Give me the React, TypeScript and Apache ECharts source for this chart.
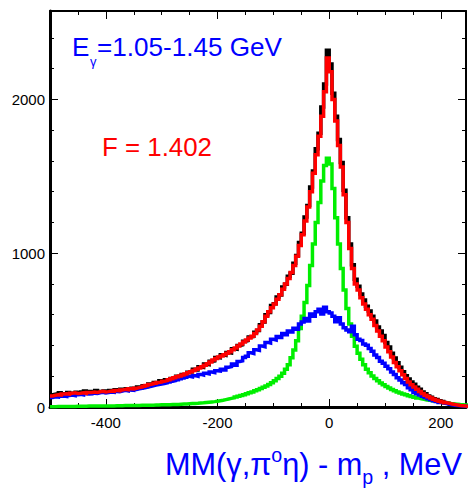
import React, { useEffect, useRef } from "react";
import * as echarts from "echarts";

// Histogram binning (MeV)
const BIN_START = -500;
const BIN_WIDTH = 5;
const X_MIN = -500;
const X_MAX = 245;
const Y_MIN = 0;
const Y_MAX = 2575;

// Tick values
const xMajorTicks = [-400, -200, 0, 200];
const yMajorTicks = [0, 1000, 2000];

// Data (black), 150 bins of 5 MeV from -500
const dataCounts = [
  80, 84, 78, 92, 86, 88, 95, 85, 90, 96,
  92, 98, 104, 94, 100, 96, 108, 100, 97, 104,
  102, 108, 100, 112, 104, 116, 110, 118, 114, 122,
  120, 130, 126, 138, 134, 150, 145, 160, 156, 170,
  165, 178, 172, 186, 184, 200, 194, 212, 206, 226,
  228, 246, 240, 262, 258, 280, 276, 298, 300, 322,
  320, 340, 336, 355, 352, 378, 376, 400, 404, 428,
  432, 455, 458, 486, 498, 535, 552, 600, 615, 660,
  672, 715, 728, 780, 798, 850, 870, 935, 985, 1070,
  1130, 1235, 1310, 1430, 1535, 1680, 1780, 1950, 2100, 2320,
  2230, 2040, 1890, 1740, 1590, 1410, 1230, 1060, 925, 830,
  785, 735, 695, 655, 625, 590, 560, 520, 495, 465,
  420, 390, 350, 318, 288, 258, 230, 204, 182, 162,
  148, 128, 116, 98, 86, 72, 64, 54, 48, 40,
  35, 29, 25, 20, 17, 13, 11, 8, 6, 5,
];

// Fit sum (red)
const fitCounts = [
  72, 76, 80, 78, 84, 86, 83, 90, 92, 88,
  90, 93, 89, 95, 94, 97, 95, 99, 102, 98,
  100, 104, 102, 108, 106, 111, 115, 112, 118, 117,
  122, 126, 130, 135, 140, 146, 150, 155, 160, 163,
  168, 172, 178, 184, 190, 196, 202, 208, 214, 222,
  230, 238, 246, 254, 262, 272, 282, 292, 305, 315,
  325, 332, 340, 350, 360, 372, 384, 396, 410, 422,
  435, 448, 460, 478, 500, 525, 555, 590, 620, 645,
  670, 700, 730, 765, 800, 835, 875, 920, 980, 1050,
  1120, 1210, 1300, 1400, 1520, 1640, 1760, 1890, 2050, 2270,
  2180, 2000, 1860, 1700, 1560, 1380, 1200, 1030, 900, 800,
  760, 710, 670, 635, 600, 570, 530, 495, 460, 430,
  390, 360, 325, 290, 262, 235, 210, 185, 162, 145,
  130, 115, 100, 88, 76, 66, 58, 50, 44, 38,
  33, 28, 24, 20, 16, 13, 10, 8, 6, 5,
];

// Background component (blue)
const backgroundCounts = [
  62, 66, 64, 70, 72, 69, 75, 78, 74, 80,
  82, 79, 86, 84, 85, 90, 88, 92, 95, 91,
  94, 98, 96, 101, 100, 104, 108, 105, 111, 109,
  114, 118, 122, 125, 129, 134, 138, 142, 146, 150,
  153, 157, 163, 168, 172, 178, 183, 188, 193, 200,
  196, 204, 200, 212, 208, 220, 216, 228, 224, 236,
  234, 246, 240, 258, 262, 280, 272, 296, 300, 322,
  330, 352, 348, 372, 368, 396, 392, 420, 416, 440,
  436, 458, 452, 478, 470, 495, 488, 512, 505, 540,
  553, 575, 560, 605, 590, 620, 635, 605, 648, 620,
  612, 590, 555, 580, 540, 515, 500, 490, 525, 470,
  440, 432, 410, 402, 380, 362, 338, 322, 298, 284,
  265, 248, 228, 212, 190, 175, 158, 146, 125, 112,
  95, 86, 78, 70, 62, 54, 47, 40, 35, 30,
  26, 22, 18, 15, 12, 10, 8, 6, 5, 4,
];

// Signal component (green)
const signalCounts = [
  2, 2, 3, 3, 3, 3, 4, 4, 4, 5,
  5, 5, 5, 6, 6, 6, 6, 7, 7, 7,
  7, 7, 7, 8, 8, 8, 9, 9, 9, 10,
  10, 10, 11, 11, 11, 12, 12, 13, 13, 14,
  14, 15, 15, 16, 17, 17, 18, 19, 20, 21,
  22, 23, 24, 26, 27, 29, 31, 33, 35, 38,
  41, 44, 48, 52, 56, 60, 65, 70, 75, 80,
  86, 92, 98, 105, 112, 120, 128, 137, 147, 158,
  170, 185, 200, 220, 245, 275, 320, 370, 430, 510,
  590, 680, 790, 920, 1060, 1200, 1330, 1470, 1570, 1618,
  1580, 1420, 1230, 1060, 900, 760, 640, 540, 460, 395,
  350, 310, 275, 245, 222, 202, 185, 170, 156, 144,
  133, 123, 114, 106, 98, 91, 85, 79, 73, 68,
  63, 58, 54, 50, 46, 43, 40, 37, 34, 31,
  28, 26, 24, 22, 20, 18, 16, 15, 13, 12,
];

const energySymbol = "E";
const energySub = "γ";
const energyLabel = "=1.05-1.45 GeV";
const factorLabel = "F = 1.402";
const titlePieces = [
  { text: "MM(γ,π", kind: "main" },
  { text: "o", kind: "sup" },
  { text: "η) - m", kind: "main" },
  { text: "p", kind: "sub" },
  { text: " , MeV", kind: "main" },
];

const FONT = '"Liberation Sans", Arial, Helvetica, sans-serif';

function toSteps(counts: number[]) {
  const pts = counts.map((c, i) => [BIN_START + i * BIN_WIDTH, c]);
  pts.push([BIN_START + counts.length * BIN_WIDTH, counts[counts.length - 1]]);
  return pts;
}

let measureCtx: CanvasRenderingContext2D | null = null;
function measure(text: string, size: number) {
  if (!measureCtx) measureCtx = document.createElement("canvas").getContext("2d");
  if (!measureCtx) return text.length * size * 0.55;
  measureCtx.font = `${size}px ${FONT}`;
  return measureCtx.measureText(text).width;
}

function fitSize(text: string, width: number) {
  return (width / measure(text, 100)) * 100;
}

function stepSeries(name: string, counts: number[], color: string, z: number) {
  return {
    name,
    type: "line",
    step: "end",
    data: toSteps(counts),
    symbol: "none",
    lineStyle: { color, width: 3.5, join: "miter", cap: "butt" },
    z,
    silent: true,
  };
}

function axisBase(extra: any) {
  return {
    type: "value",
    gridIndex: 0,
    splitLine: { show: false },
    ...extra,
  };
}

function axisLineStyle(show: boolean, width: number) {
  return { show, onZero: false, lineStyle: { color: "#000", width } };
}

const plainLabel = (v: number) => String(v);

export default function App() {
  const ref = useRef<HTMLDivElement>(null);

  useEffect(() => {
    if (!ref.current) return;
    const chart = echarts.init(ref.current, null, { renderer: "svg" });

    // Title layout via measured text
    const SCRIPT = 0.64;
    const titleUnit = titlePieces.reduce(
      (s, p) => s + measure(p.text, p.kind === "main" ? 100 : 100 * SCRIPT) / 100,
      0
    );
    const titleSize = 297 / titleUnit;
    let tx = 165;
    const titleEls: any[] = [];
    for (const p of titlePieces) {
      const size = p.kind === "main" ? titleSize : titleSize * SCRIPT;
      const y = p.kind === "main" ? 464 : p.kind === "sup" ? 455 : 477;
      titleEls.push({
        type: "text",
        x: tx,
        y,
        style: {
          text: p.text,
          fontSize: size,
          fontFamily: FONT,
          fill: "#0000ff",
          align: "left",
          verticalAlign: "middle",
        },
      });
      tx += measure(p.text, size);
    }

    const eSize = fitSize(energyLabel, 185);
    const fSize = fitSize(factorLabel, 110);
    const eWidth = measure(energySymbol, eSize);

    const option: any = {
      animation: false,
      backgroundColor: "#ffffff",
      grid: { left: 50, top: 11, width: 416, height: 396, containLabel: false },
      xAxis: [
        axisBase({
          position: "bottom",
          min: X_MIN,
          max: X_MAX,
          interval: 100,
          axisLine: axisLineStyle(true, 3),
          axisTick: {
            show: true,
            inside: true,
            length: 8,
            lineStyle: { color: "#000", width: 1 },
            customValues: xMajorTicks,
          },
          axisLabel: {
            show: true,
            color: "#000",
            fontSize: 15,
            fontFamily: FONT,
            margin: 8,
            customValues: xMajorTicks,
            formatter: plainLabel,
          },
        }),
        axisBase({
          position: "bottom",
          min: X_MIN,
          max: X_MAX,
          interval: 50,
          axisLine: axisLineStyle(false, 1),
          axisTick: { show: true, inside: true, length: 4, lineStyle: { color: "#000", width: 1 } },
          axisLabel: { show: false },
        }),
        axisBase({
          position: "top",
          min: X_MIN,
          max: X_MAX,
          interval: 100,
          axisLine: axisLineStyle(true, 2),
          axisTick: {
            show: true,
            inside: true,
            length: 8,
            lineStyle: { color: "#000", width: 1 },
            customValues: xMajorTicks,
          },
          axisLabel: { show: false },
        }),
        axisBase({
          position: "top",
          min: X_MIN,
          max: X_MAX,
          interval: 50,
          axisLine: axisLineStyle(false, 1),
          axisTick: { show: true, inside: true, length: 4, lineStyle: { color: "#000", width: 1 } },
          axisLabel: { show: false },
        }),
      ],
      yAxis: [
        axisBase({
          position: "left",
          min: Y_MIN,
          max: Y_MAX,
          interval: 1000,
          axisLine: axisLineStyle(true, 3),
          axisTick: {
            show: true,
            inside: true,
            length: 8,
            lineStyle: { color: "#000", width: 1 },
            customValues: yMajorTicks,
          },
          axisLabel: {
            show: true,
            color: "#000",
            fontSize: 15,
            fontFamily: FONT,
            margin: 5,
            customValues: yMajorTicks,
            formatter: plainLabel,
          },
        }),
        axisBase({
          position: "left",
          min: Y_MIN,
          max: Y_MAX,
          interval: 200,
          axisLine: axisLineStyle(false, 1),
          axisTick: { show: true, inside: true, length: 4, lineStyle: { color: "#000", width: 1 } },
          axisLabel: { show: false },
        }),
        axisBase({
          position: "right",
          min: Y_MIN,
          max: Y_MAX,
          interval: 1000,
          axisLine: axisLineStyle(true, 2),
          axisTick: {
            show: true,
            inside: true,
            length: 8,
            lineStyle: { color: "#000", width: 1 },
            customValues: yMajorTicks,
          },
          axisLabel: { show: false },
        }),
        axisBase({
          position: "right",
          min: Y_MIN,
          max: Y_MAX,
          interval: 200,
          axisLine: axisLineStyle(false, 1),
          axisTick: { show: true, inside: true, length: 4, lineStyle: { color: "#000", width: 1 } },
          axisLabel: { show: false },
        }),
      ],
      series: [
        stepSeries("Data", dataCounts, "#000000", 2),
        stepSeries("Signal", signalCounts, "#00ee00", 3),
        stepSeries("Background", backgroundCounts, "#0000ff", 4),
        stepSeries("Fit", fitCounts, "#ff0000", 5),
      ],
      graphic: [
        {
          type: "text",
          x: 72,
          y: 47,
          style: { text: energySymbol, fontSize: eSize, fontFamily: FONT, fill: "#0000ff", verticalAlign: "middle" },
        },
        {
          type: "text",
          x: 72 + eWidth + 0.5,
          y: 61,
          style: { text: energySub, fontSize: 13, fontFamily: FONT, fill: "#0000ff", verticalAlign: "middle" },
        },
        {
          type: "text",
          x: 97,
          y: 47,
          style: { text: energyLabel, fontSize: eSize, fontFamily: FONT, fill: "#0000ff", verticalAlign: "middle" },
        },
        {
          type: "text",
          x: 102,
          y: 147,
          style: { text: factorLabel, fontSize: fSize, fontFamily: FONT, fill: "#ff0000", verticalAlign: "middle" },
        },
        ...titleEls,
      ],
    };

    chart.setOption(option);
    return () => chart.dispose();
  }, []);

  return <div ref={ref} style={{ width: 468, height: 488, position: "absolute", left: 0, top: 0 }} />;
}
